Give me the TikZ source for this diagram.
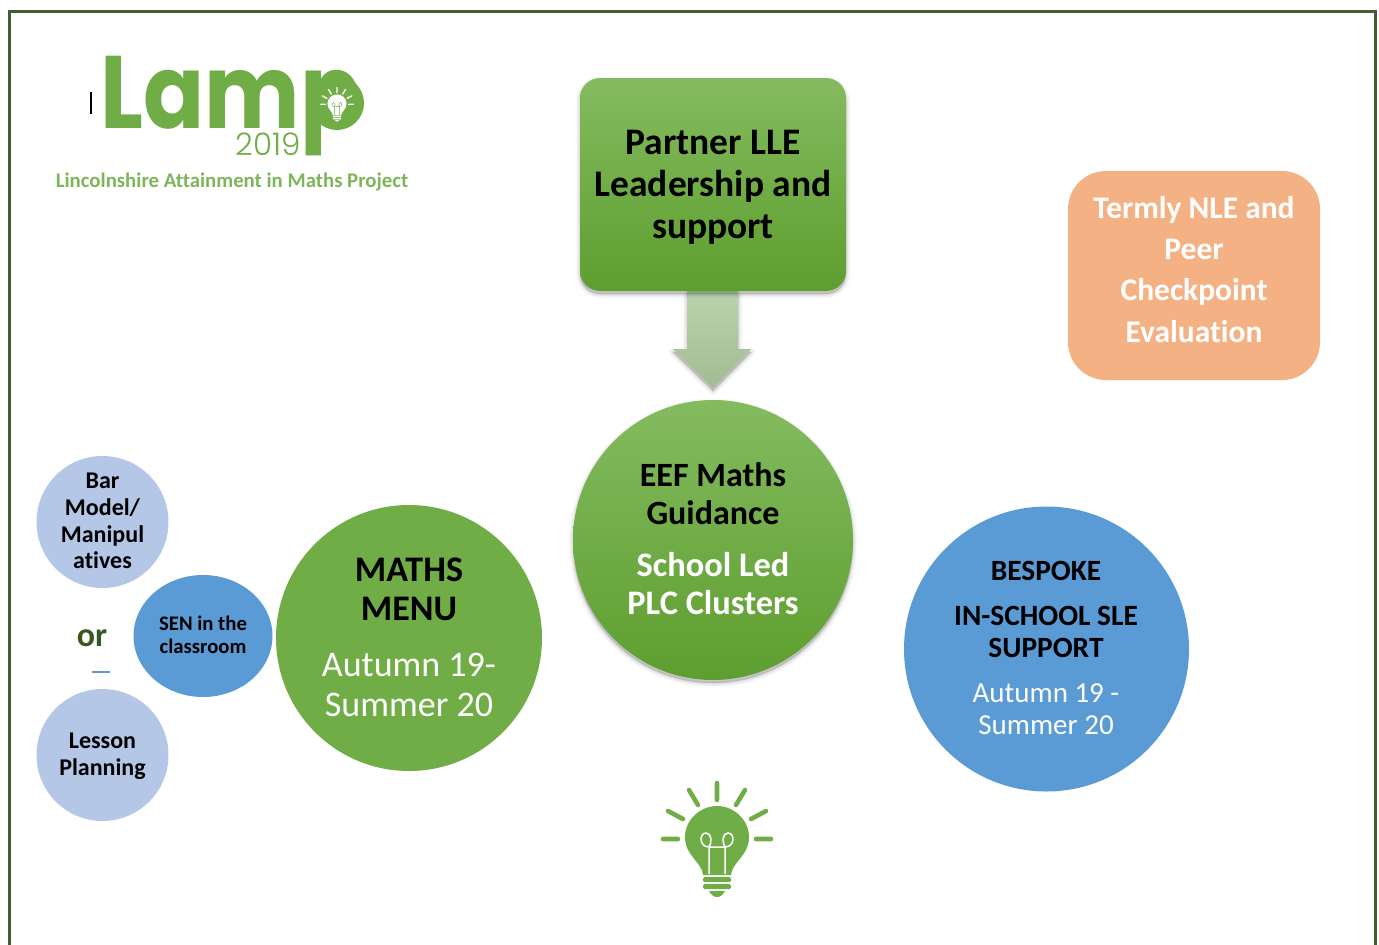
\documentclass[tikz,border=0pt]{standalone}
\usepackage{fontspec}
\setmainfont{Carlito}[Ligatures=CommonOff]
\newfontfamily\logofont{Poppins}[UprightFont=* Bold]
\newfontfamily\thinfont{Poppins}[UprightFont=* Light]
\usetikzlibrary{calc,shapes.geometric,backgrounds}
\definecolor{lampgreen}{HTML}{70AD47}
\definecolor{gradtop}{HTML}{84BB5F}
\definecolor{gradbot}{HTML}{5E9E2F}
\definecolor{framegreen}{HTML}{3F5F2E}
\definecolor{dkgreen}{HTML}{385723}
\definecolor{sky}{HTML}{5B9BD5}
\definecolor{pale}{HTML}{B4C7E7}
\definecolor{peach}{HTML}{F4B183}
\definecolor{arrowtop}{HTML}{BAD3AE}
\definecolor{arrowbot}{HTML}{A2BB92}
\newcommand{\fs}[2]{\fontsize{#1}{#2}\selectfont}
\tikzset{
  softshadow/.style={
    preaction={draw=black,fill=black,opacity=.025,line width=9pt,line join=round,transform canvas={yshift=-3pt}},
    preaction={draw=black,fill=black,opacity=.035,line width=6pt,line join=round,transform canvas={yshift=-3pt}},
    preaction={draw=black,fill=black,opacity=.05,line width=3.5pt,line join=round,transform canvas={yshift=-3pt}},
    preaction={draw=black,fill=black,opacity=.06,line width=1pt,line join=round,transform canvas={yshift=-3pt}}},
  gradfill/.style={top color=gradtop,bottom color=gradbot},
  disc/.style={circle,inner sep=0pt,outer sep=0pt,minimum size=#1},
  txt/.style={inner sep=0pt,outer sep=0pt,align=center},
  pics/bulb/.style args={#1/#2/#3}{code={
    \draw[#1,line width=4.6pt*#3,line cap=round] (0,-55)--(0,-38) (-28,-48)--(-19,-33) (28,-48)--(19,-33)
      (-49,-27)--(-34,-19) (49,-27)--(34,-19) (-54,1)--(-39,1) (54,1)--(39,1);
    \fill[#1] (-14,37) .. controls (-15,24) and (-32,18) .. (-32,-1)
       .. controls (-32,-18) and (-17,-32) .. (0,-32)
       .. controls (17,-32) and (32,-18) .. (32,-1)
       .. controls (32,18) and (15,24) .. (14,37) -- cycle;
    \fill[#1,rounded corners=1.5pt*#3] (-14,39) rectangle (14,44);
    \fill[#1,rounded corners=1.5pt*#3] (-14,46) rectangle (14,51);
    \fill[#1] (-8,53) -- (8,53) .. controls (6,57) and (3,59) .. (0,59) .. controls (-3,59) and (-6,57) .. (-8,53) -- cycle;
    \draw[#2,line width=1.5pt*#3] (-8,36) -- (-8,9) -- (8,9) -- (8,36)
      (-8,9) .. controls (-18,9) and (-18,-5) .. (-11,-5) .. controls (-5,-5) and (-5,5) .. (-8,9)
      (8,9) .. controls (18,9) and (18,-5) .. (11,-5) .. controls (5,-5) and (5,5) .. (8,9);
  }}
}
\begin{document}
\begin{tikzpicture}[x=1pt,y=-1pt]
\useasboundingbox (0,0) rectangle (1379,945);
% page frame, open at the foot
\draw[framegreen,line width=3pt] (9,945) -- (9,11) -- (1375,11) -- (1375,945);

% logo
\node[txt,anchor=base west,text=lampgreen,xscale=0.875,transform shape,font=\logofont\fs{103}{103}] (lamp) at (100.5,128) {Lamp};
\fill[lampgreen] (337,103) circle (27);
\pic[scale=.3] at (337,104) {bulb={white/lampgreen/.3}};
\node[txt,anchor=base,text=lampgreen,font=\thinfont\fs{31}{31}] (year) at (268.5,155) {2019};
\node[txt,text=lampgreen!90!white,font=\bfseries\fs{20.8}{21}] (project) at (232,181.5) {Lincolnshire Attainment in Maths Project};
\node[fill=black,inner sep=0pt,minimum width=1.6pt,minimum height=22pt] (tick) at (91,103) {};

% top box and arrow
\node[rounded corners=20pt,gradfill,softshadow,minimum width=266pt,minimum height=213pt,inner sep=0pt] (box) at (713,184.5) {};
\node[txt,font=\bfseries\fs{37.5}{42}] (boxtext) at (713,187.5) {Partner LLE\\Leadership and\\support};

% centre circle
\node[disc=280pt,gradfill,softshadow] (main) at (713,540) {};
\node[txt,font=\bfseries\fs{34}{38}] (eef) at (713,494) {EEF Maths\\Guidance};
\node[txt,text=white,font=\bfseries\fs{34.4}{38}] (plc) at (713,584) {School Led\\PLC Clusters};

\begin{scope}[on background layer]
\path[top color=arrowtop,bottom color=arrowbot,softshadow]
  ($(box.south)+(-26,0)$) -- ($(box.south)+(25,0)$) -- ($(box.south)+(25,58)$) -- ($(box.south)+(38,58)$)
  -- ($(main.north)+(0,-12)$) -- ($(box.south)+(-40,58)$) -- ($(box.south)+(-26,58)$) -- cycle;
\end{scope}

% peach box
\node[rounded corners=38pt,fill=peach,minimum width=252pt,minimum height=209pt,inner sep=0pt] (peachbox) at (1194,275.5) {};
\node[txt,text=white,font=\bfseries\fs{31.5}{41.1}] (peachtext) at (1194,269.5) {Termly NLE and\\Peer\\Checkpoint\\Evaluation};

% maths menu
\node[disc=266pt,fill=lampgreen] (menu) at (409,638) {};
\node[txt,font=\bfseries\fs{36}{39}] (menuhead) at (409,589.5) {MATHS\\MENU};
\node[txt,text=white,font=\fs{36}{40}] (menudate) at (409,684.5) {Autumn 19-\\Summer 20};

% bespoke
\node[disc=285pt,fill=sky] (bespoke) at (1046.5,649) {};
\node[txt,font=\bfseries\fs{29.4}{32}] (bhead1) at (1046,571) {BESPOKE};
\node[txt,font=\bfseries\fs{29.4}{32}] (bhead2) at (1046,632) {IN-SCHOOL SLE\\SUPPORT};
\node[txt,text=white,font=\fs{29}{32}] (bdate) at (1046,709) {Autumn 19 -\\Summer 20};

% small circles
\node[disc=132pt,fill=pale] (bar) at (102.5,522) {};
\node[txt,font=\bfseries\fs{24}{26.7}] (bartext) at (102.5,521) {Bar\\Model/\\Manipul\\atives};
\node[disc=132pt,fill=pale] (lesson) at (102.5,755) {};
\node[txt,font=\bfseries\fs{24}{27}] (lessontext) at (102.5,756) {Lesson\\Planning};
\node[ellipse,fill=sky,inner sep=0pt,minimum width=139pt,minimum height=122pt] (sen) at (203,636) {};
\node[txt,font=\bfseries\fs{20.7}{23}] (sentext) at (203,635) {SEN in the\\classroom};
\node[txt,text=dkgreen,font=\bfseries\fs{34}{34}] (ortext) at (92,638.5) {or};
\node[fill=sky,inner sep=0pt,minimum width=18pt,minimum height=2pt] (dash) at (101,671.5) {};

% bottom bulb
\pic at (717,838) {bulb={lampgreen/white/1}};
\end{tikzpicture}
\end{document}
